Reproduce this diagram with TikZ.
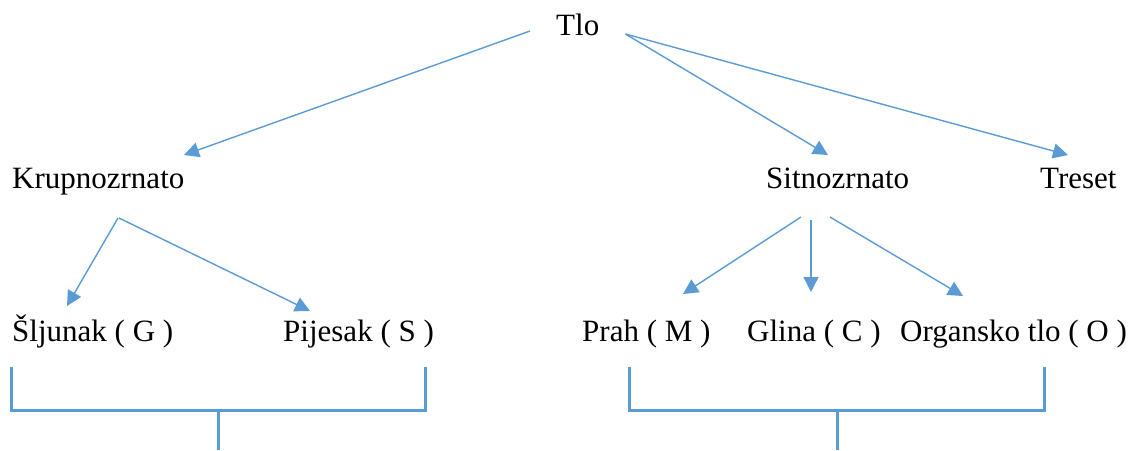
\documentclass[tikz,border=0pt]{standalone}
\usepackage{fontspec}
\setmainfont{Liberation Serif}
\usetikzlibrary{arrows.meta,calc}
\definecolor{lineblue}{HTML}{5B9BD5}
\begin{document}
\begin{tikzpicture}[x=1pt,y=-1pt,
  lbl/.style={anchor=base west,inner sep=0pt,font=\fontsize{31}{37}\selectfont},
  arr/.style={draw=lineblue,line width=1.4pt,-{Triangle[length=15pt,width=15pt]},fill=lineblue},
  brk/.style={draw=lineblue,line width=3pt}]
\useasboundingbox (0,0) rectangle (1148,450);
\node[lbl] (tlo) at (556,35) {Tlo};
\node[lbl] (krupno) at (12,188) {Krupnozrnato};
\node[lbl] (sitno) at (766,188) {Sitnozrnato};
\node[lbl] (treset) at (1040,188) {Treset};
\node[lbl] (sljunak) at (12,341) {Šljunak ( G )};
\node[lbl] (pijesak) at (283,341) {Pijesak ( S )};
\node[lbl] (prah) at (582,341) {Prah ( M )};
\node[lbl] (glina) at (747,341) {Glina ( C )};
\node[lbl] (organsko) at (900,341) {Organsko tlo ( O )};
% arrows
\draw[arr] ($(tlo.base west)+(-26,-4)$) -- ($(krupno.base west)+(172,-33)$);
\draw[arr] ($(tlo.base east)+(26,-1)$) -- ($(sitno.base west)+(62,-33)$);
\draw[arr] ($(tlo.base east)+(26,-1)$) -- ($(treset.base west)+(28,-33)$);
\draw[arr] ($(krupno.base west)+(106,30)$) -- ($(sljunak.base west)+(55,-35)$);
\draw[arr] ($(krupno.base west)+(107,30)$) -- ($(pijesak.base west)+(27,-30)$);
\draw[arr] ($(sitno.base west)+(35,29)$) -- ($(prah.base west)+(101,-47)$);
\draw[arr] ($(sitno.base west)+(45,32)$) -- ($(glina.base west)+(64,-49)$);
\draw[arr] ($(sitno.base west)+(64,29)$) -- ($(organsko.base west)+(63,-45)$);
% brackets
\coordinate (bl1) at (11,367);
\coordinate (bl2) at (425,367);
\coordinate (bls) at (218,450);
\coordinate (br1) at (629,367);
\coordinate (br2) at (1044,367);
\coordinate (brs) at (837,450);
\draw[brk] (bl1) -- (bl1 |- 0,410) -- (bl2 |- 0,410) -- (bl2);
\draw[brk] (bls |- 0,410) -- (bls);
\draw[brk] (br1) -- (br1 |- 0,410) -- (br2 |- 0,410) -- (br2);
\draw[brk] (brs |- 0,410) -- (brs);
\end{tikzpicture}
\end{document}
